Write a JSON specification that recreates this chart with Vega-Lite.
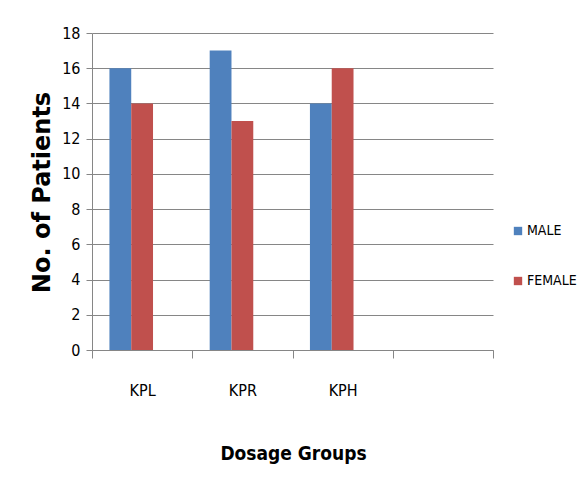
{
  "$schema": "https://vega.github.io/schema/vega-lite/v6.json",
  "autosize": "none",
  "width": 401,
  "height": 317,
  "padding": {"left": 92, "top": 33, "right": 87, "bottom": 138},
  "background": "white",
  "data": {
    "values": [
      {"group": "KPL", "sex": "MALE", "patients": 16},
      {"group": "KPL", "sex": "FEMALE", "patients": 14},
      {"group": "KPR", "sex": "MALE", "patients": 17},
      {"group": "KPR", "sex": "FEMALE", "patients": 13},
      {"group": "KPH", "sex": "MALE", "patients": 14},
      {"group": "KPH", "sex": "FEMALE", "patients": 16}
    ]
  },
  "mark": {"type": "bar"},
  "encoding": {
    "x": {
      "field": "group",
      "type": "nominal",
      "sort": null,
      "scale": {"domain": ["KPL", "KPR", "KPH", " "], "paddingInner": 0, "paddingOuter": 0},
      "axis": {
        "title": "Dosage Groups",
        "labelAngle": 0,
        "tickBand": "extent",
        "tickSize": 8,
        "tickColor": "#868686",
        "domainColor": "#868686",
        "labelPadding": 24,
        "labelFont": "DejaVu Sans Condensed",
        "labelFontSize": 16,
        "labelColor": "#000000",
        "titleFont": "DejaVu Sans Condensed",
        "titleFontSize": 19,
        "titleFontWeight": "bold",
        "titleColor": "#000000",
        "titleX": 201,
        "titleY": 103,
        "titleBaseline": "middle",
        "titleAlign": "center"
      }
    },
    "xOffset": {
      "field": "sex",
      "scale": {"domain": ["MALE", "FEMALE", "_"], "paddingInner": 0, "paddingOuter": 0.8}
    },
    "y": {
      "field": "patients",
      "type": "quantitative",
      "scale": {"domain": [0, 18]},
      "axis": {
        "title": "No. of Patients",
        "values": [0, 2, 4, 6, 8, 10, 12, 14, 16, 18],
        "gridColor": "#868686",
        "gridWidth": 1,
        "tickColor": "#868686",
        "tickSize": 6,
        "domainColor": "#868686",
        "labelPadding": 6,
        "labelFont": "DejaVu Sans Condensed",
        "labelFontSize": 16,
        "labelColor": "#000000",
        "titleFont": "DejaVu Sans",
        "titleFontSize": 24,
        "titleFontWeight": "bold",
        "titleColor": "#000000",
        "titleAngle": 270,
        "titleX": -50,
        "titleY": 159,
        "titleAlign": "center",
        "titleBaseline": "middle"
      }
    },
    "color": {
      "field": "sex",
      "type": "nominal",
      "scale": {"domain": ["MALE", "FEMALE"], "range": ["#4F81BD", "#C0504D"]},
      "legend": {
        "title": null,
        "orient": "none",
        "legendX": 419,
        "legendY": 191,
        "symbolType": "square",
        "symbolSize": 70,
        "rowPadding": 36,
        "labelFont": "DejaVu Sans Condensed",
        "labelFontSize": 14,
        "labelColor": "#000000",
        "labelOffset": 2
      }
    }
  },
  "config": {"view": {"stroke": null}}
}
